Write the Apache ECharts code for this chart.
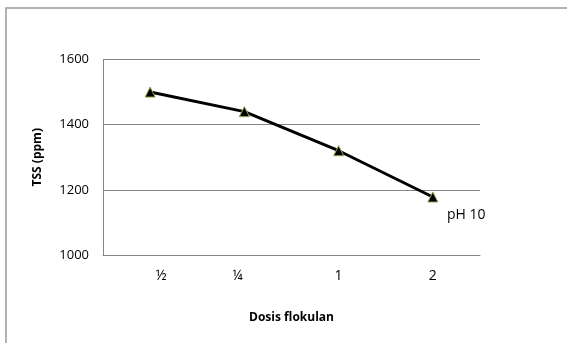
<!DOCTYPE html>
<html>
<head>
<meta charset="utf-8">
<script src="https://cdn.jsdelivr.net/npm/echarts@6/dist/echarts.min.js"></script>
<style>
  html, body { margin: 0; padding: 0; background: #fff; }
  #chart { width: 567px; height: 343px; }
</style>
</head>
<body>
<div id="chart"></div>
<script>
// Dose categories along the x axis
const doses = ['½', '¼', '1', '2'];
// TSS readings (ppm) at pH 10
const tssPH10 = [1500, 1440, 1320, 1178];
// Value axis ticks
const yTicks = [1000, 1200, 1400, 1600];
const seriesName = 'pH 10';

const chart = echarts.init(document.getElementById('chart'), null, { renderer: 'canvas' });

const fontFam = '"Open Sans", "Noto Sans", sans-serif';

chart.setOption({
  animation: false,
  backgroundColor: '#fff',
  graphic: [{
    type: 'rect',
    shape: { x: 6, y: 8, width: 620, height: 400 },
    style: { fill: 'none', stroke: '#9a9a9a', lineWidth: 1.5 },
    silent: true
  }],
  grid: { left: 103, right: 87, top: 59.5, bottom: 88 },
  xAxis: {
    type: 'category',
    data: doses,
    boundaryGap: true,
    axisLine: { lineStyle: { color: '#868686', width: 1 } },
    axisTick: { show: false },
    axisLabel: {
      margin: 14,
      fontFamily: fontFam,
      fontSize: 14,
      color: '#000',
      formatter: function (v, i) {
        if (i === 0) return '{r|' + v + '}';
        if (i === 1) return '{l|' + v + '}';
        return v;
      },
      rich: {
        r: { fontFamily: fontFam, fontSize: 14, color: '#000', padding: [0, 0, 0, 22] },
        l: { fontFamily: fontFam, fontSize: 14, color: '#000', padding: [0, 14, 0, 0] }
      }
    },
    name: 'Dosis flokulan',
    nameLocation: 'middle',
    nameGap: 57,
    nameTextStyle: { fontFamily: fontFam, fontSize: 12, fontWeight: 'bold', color: '#000' }
  },
  yAxis: {
    type: 'value',
    min: yTicks[0],
    max: yTicks[yTicks.length - 1],
    interval: 200,
    axisLine: { show: true, lineStyle: { color: '#868686', width: 1 } },
    axisTick: { show: false },
    splitLine: { show: true, lineStyle: { color: '#868686', width: 1 } },
    axisLabel: {
      margin: 14,
      fontFamily: fontFam,
      fontSize: 13,
      color: '#000',
      formatter: function (v) { return String(v); }
    },
    name: 'TSS (ppm)',
    nameLocation: 'middle',
    nameGap: 59,
    nameRotate: 90,
    nameTextStyle: { fontFamily: fontFam, fontSize: 12, fontWeight: 'bold', color: '#000' }
  },
  series: [{
    name: seriesName,
    type: 'line',
    data: tssPH10,
    symbol: 'triangle',
    symbolSize: 10,
    lineStyle: { color: '#000', width: 3 },
    itemStyle: { color: '#000', borderColor: '#8fa84e', borderWidth: 1 },
    endLabel: {
      show: true,
      formatter: seriesName,
      fontFamily: fontFam,
      fontSize: 14,
      color: '#000',
      offset: [6, 18]
    }
  }]
});
</script>
</body>
</html>
